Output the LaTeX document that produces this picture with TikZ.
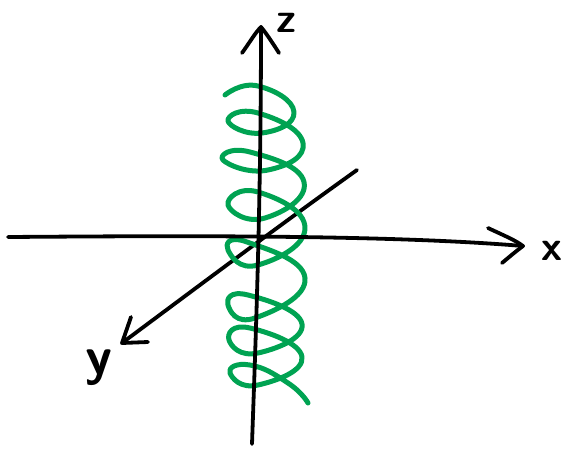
\documentclass[tikz,border=0pt]{standalone}
\usetikzlibrary{calc}
\definecolor{helixgreen}{RGB}{0,163,82}
\tikzset{
  axisline/.style={line width=3.8pt, black, line cap=round, line join=round},
  helixline/.style={line width=5pt, helixgreen, line cap=round, line join=round},
  axislabel/.style={font=\sffamily\bfseries\fontsize{42}{42}\selectfont, inner sep=0pt}
}
\begin{document}
\begin{tikzpicture}[x=1pt,y=-1pt]
\useasboundingbox (0,0) rectangle (568,450);
% coordinates
\coordinate (ytop) at (357,170);
\coordinate (ytip) at (122,343);
\coordinate (ylegA) at (131,317);
\coordinate (ylegB) at (148,342);
\coordinate (zbot) at (252,444);
\coordinate (ztip) at (261,27);
\coordinate (zlegA) at (242,53);
\coordinate (zlegB) at (279,53);
\coordinate (xleft) at (8,237);
\coordinate (xtip) at (523,246);
\coordinate (xlegA) at (488,228);
\coordinate (xlegB) at (502,263);
% y axis (under helix)
\draw[axisline] (ytop) .. controls (280,225) and (200,285) .. (ytip);
\draw[axisline] (ylegA) -- (ytip) -- (ylegB);
% helix
\draw[helixline] plot[smooth, tension=0.9] coordinates {
(225,95) (258,86) (294,112) (262,133) (228,121)
(258,113) (303,143) (268,170) (223,160)
(250,152) (304,182) (265,218) (228,205)
(258,192) (305,228) (258,265) (228,250)
(247,242) (305,278) (255,318) (228,305)
(248,295) (302,324) (258,353) (229,340)
(250,328) (302,357) (258,385) (230,373)
(250,365) (288,383) (308,403)};
% x axis
\draw[axisline] (xleft) .. controls (150,236) and (380,234) .. (xtip);
\draw[axisline] (xlegA) .. controls (505,236) and (515,240) .. (xtip) .. controls (515,252) and (508,258) .. (xlegB);
% z axis
\draw[axisline] (zbot) .. controls (256,330) and (261,200) .. (ztip);
\draw[axisline] (zlegA) .. controls (250,42) and (255,33) .. (ztip) .. controls (266,33) and (272,42) .. (zlegB);
% labels
\node[axislabel] (zl) at (286,23) {z};
\node[axislabel] (xl) at (552,251) {x};
\node[axislabel, font=\sffamily\bfseries\fontsize{54}{54}\selectfont] (yl) at (99,368) {y};
\end{tikzpicture}
\end{document}
